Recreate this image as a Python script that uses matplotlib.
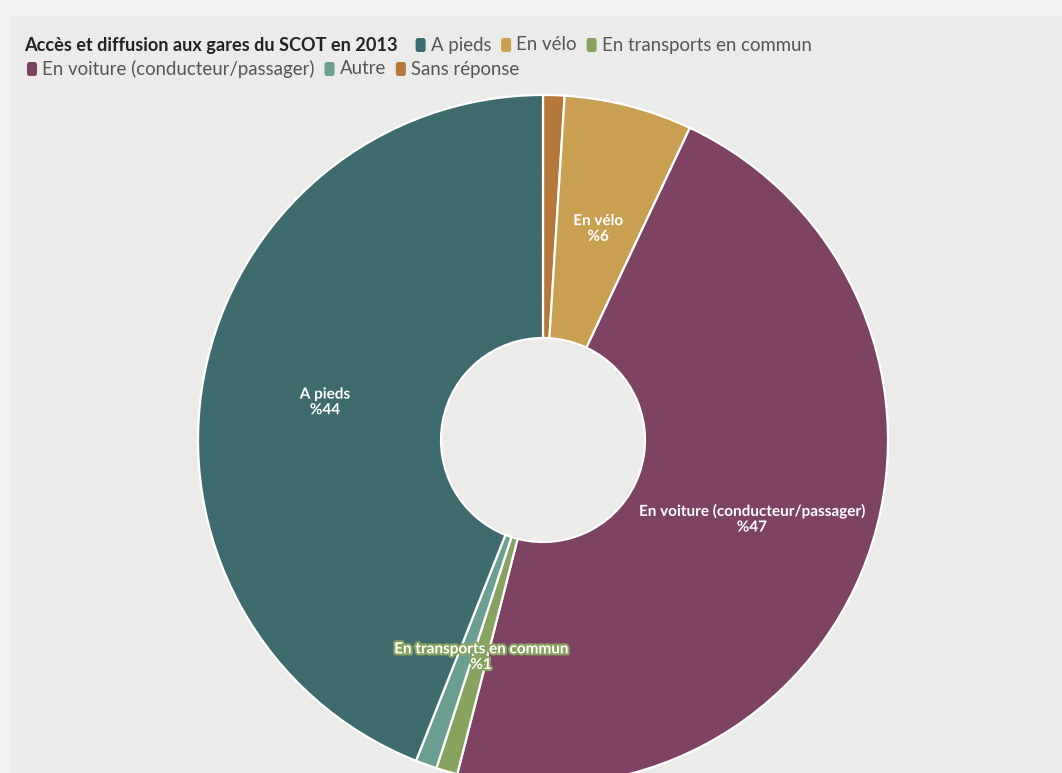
import matplotlib
matplotlib.use("Agg")
import matplotlib.pyplot as plt
import matplotlib.patheffects as pe
from matplotlib.patches import FancyBboxPatch, Rectangle

# ── Data ──────────────────────────────────────────────────────────────────────
TITLE = "Accès et diffusion aux gares du SCOT en 2013"

# slices in drawing order (clockwise from 12 o'clock)
SLICES = ["Sans réponse", "En vélo", "En voiture (conducteur/passager)",
          "En transports en commun", "Autre", "A pieds"]
VALUES = [1, 6, 47, 1, 1, 44]
SHOW_LABEL = [False, True, True, True, False, True]

# legend order, split over two lines
LEGEND_L1 = ["A pieds", "En vélo", "En transports en commun"]
LEGEND_L2 = ["En voiture (conducteur/passager)", "Autre", "Sans réponse"]

COLORS = {
    "A pieds": "#3e6c6e",
    "En vélo": "#c9a052",
    "En transports en commun": "#88a25f",
    "En voiture (conducteur/passager)": "#7e4263",
    "Autre": "#6b9f92",
    "Sans réponse": "#b5783a",
}

W, H = 1062, 773
BG_OUT = "#f1f2f4"
BG_IN = "#ebebe9"
FONT = "Lato"

fig = plt.figure(figsize=(W / 100, H / 100), dpi=100)
fig.patch.set_facecolor(BG_OUT)
ax = fig.add_axes([0, 0, 1, 1])

# ── Donut ─────────────────────────────────────────────────────────────────────
cx, cy = 543, H - 440
R_OUT, R_IN = 345, 102
labels = [f"{s}\n%{v}" if show else "" for s, v, show in zip(SLICES, VALUES, SHOW_LABEL)]
wedges, texts = ax.pie(
    VALUES, labels=labels, colors=[COLORS[s] for s in SLICES],
    startangle=90, counterclock=False, center=(cx, cy), radius=R_OUT,
    labeldistance=222 / R_OUT, frame=True,
    wedgeprops=dict(width=R_OUT - R_IN, edgecolor="white", linewidth=1.6),
    textprops=dict(color="white", fontsize=11, fontweight="bold", family=FONT),
)
ax.set_xlim(0, W)
ax.set_ylim(0, H)
ax.set_aspect("auto")
ax.axis("off")
for t, s in zip(texts, SLICES):
    t.set_ha("center")
    t.set_multialignment("center")
    t.set_linespacing(1.15)
    x0, y0 = t.get_position()
    t.set_position((x0, y0 - 4))
    lw = 3 if s == "En transports en commun" else 1.2
    t.set_path_effects([pe.withStroke(linewidth=lw, foreground=COLORS[s])])
    t.set_zorder(10)

# inner panel
ax.add_patch(Rectangle((10, 0), W - 10, H - 17, color=BG_IN, zorder=0))

# ── Title + inline legend ─────────────────────────────────────────────────────
fig.canvas.draw()
renderer = fig.canvas.get_renderer()

def text_width(t):
    return t.get_window_extent(renderer).width

y1, y2 = H - 45, H - 69
title = ax.text(24, y1, TITLE, fontsize=13.1, fontweight="bold", family=FONT,
                color="#222222", va="center", ha="left")

for names, x, y in [(LEGEND_L1, 24 + text_width(title) + 18, y1),
                    (LEGEND_L2, 27, y2)]:
    for name in names:
        ax.add_patch(FancyBboxPatch((x, y - 7), 10, 14,
                                    boxstyle="round,pad=0,rounding_size=2.5",
                                    color=COLORS[name], lw=0))
        t = ax.text(x + 15, y, name, fontsize=13.4, family=FONT, color="#555555",
                    va="center", ha="left")
        x += 15 + text_width(t) + 10

fig.savefig("out.png", dpi=100, facecolor=fig.get_facecolor())
